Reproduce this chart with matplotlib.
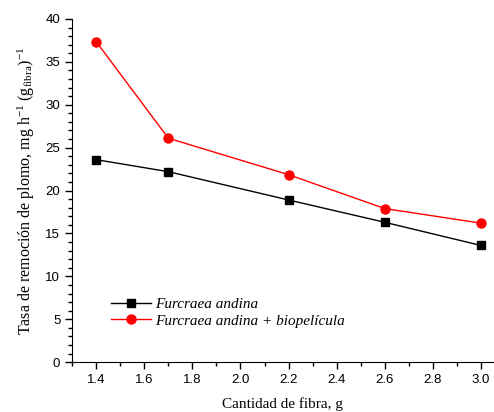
import matplotlib
matplotlib.use("Agg")
import matplotlib.pyplot as plt
from matplotlib.ticker import MultipleLocator

# data
fibra = [1.4, 1.7, 2.2, 2.6, 3.0]
solo = [23.6, 22.2, 18.9, 16.3, 13.6]
biopel = [37.35, 26.1, 21.85, 17.9, 16.2]
labels = ["Furcraea andina", "Furcraea andina + biopelícula"]

plt.rcParams["mathtext.fontset"] = "custom"
plt.rcParams["mathtext.rm"] = "Liberation Serif"
plt.rcParams["mathtext.it"] = "Liberation Serif:italic"

fig = plt.figure(figsize=(4.94, 4.12), dpi=100)
ax = fig.add_axes([0.146, 0.121, 0.852, 0.833])

ax.plot(fibra, solo, color="black", lw=1, marker="s", ms=5.5, label=labels[0])
ax.plot(fibra, biopel, color="red", lw=1, marker="o", ms=6.5, label=labels[1])

ax.set_xlim(1.3, 3.05)
ax.set_ylim(0, 40)
ax.xaxis.set_minor_locator(MultipleLocator(0.1))
ax.yaxis.set_major_locator(MultipleLocator(5))
ax.yaxis.set_minor_locator(MultipleLocator(1))
ax.set_xticks([1.4, 1.6, 1.8, 2.0, 2.2, 2.4, 2.6, 2.8, 3.0])
ax.set_xticklabels(["1.4", "1.6", "1.8", "2.0", "2.2", "2.4", "2.6", "2.8", "3.0"])

ax.tick_params(which="both", direction="out", width=1)
ax.tick_params(which="major", length=5)
ax.tick_params(which="minor", length=3)
for t in ax.get_xticklabels() + ax.get_yticklabels():
    t.set_fontfamily("Liberation Sans")
    t.set_fontsize(9.5)

ax.spines["top"].set_visible(False)
ax.spines["right"].set_visible(False)

ax.set_xlabel("Cantidad de fibra, g", family="Liberation Serif", fontsize=11, labelpad=8)
ax.set_ylabel(r"Tasa de remoción de plomo, mg h$^{\mathregular{-1}}$ (g$_{\mathregular{fibra}}$)$^{\mathregular{-1}}$",
              family="Liberation Serif", fontsize=11.5, labelpad=6)

leg = ax.legend(loc="lower left", bbox_to_anchor=(0.06, 0.06), frameon=False,
                prop={"family": "Liberation Serif", "style": "italic", "size": 11},
                handlelength=2.6, handletextpad=0.3, labelspacing=0.2)

fig.savefig("out.png", dpi=100)
